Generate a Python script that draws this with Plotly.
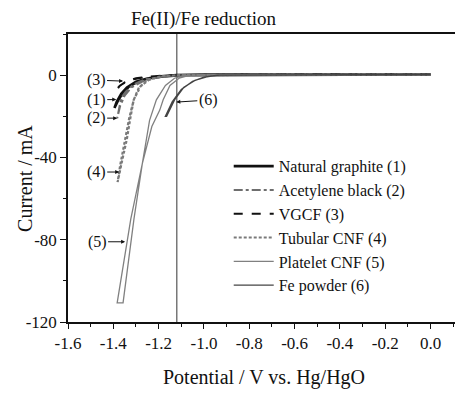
import plotly.graph_objects as go

# ---------------- data ----------------
names = ["Natural graphite (1)", "Acetylene black (2)", "VGCF (3)",
         "Tubular CNF (4)", "Platelet CNF (5)", "Fe powder (6)"]

ng_x = [0.0, -0.5, -0.9, -1.0, -1.1, -1.18, -1.24, -1.29, -1.33, -1.36, -1.38, -1.395,
        -1.395, -1.385, -1.365, -1.34, -1.3, -1.25, -1.19, -1.12, -1.0, -0.5, 0.0]
ng_y = [0.3, 0.3, 0.3, 0.2, 0.0, -0.6, -1.5, -3.0, -5.5, -9.0, -12.5, -16.0,
        -16.0, -13.0, -9.0, -6.0, -3.2, -1.6, -0.6, 0.0, 0.3, 0.3, 0.3]

ab_x = [0.0, -0.5, -1.0, -1.1, -1.2, -1.26, -1.31, -1.345, -1.365, -1.383,
        -1.383, -1.37, -1.35, -1.32, -1.27, -1.2, -1.1, -1.0, -0.5, 0.0]
ab_y = [0.3, 0.3, 0.2, 0.0, -0.8, -2.0, -4.5, -8.0, -11.0, -21.0,
        -21.0, -15.0, -10.0, -6.0, -3.0, -1.0, 0.0, 0.2, 0.3, 0.3]

vg_x = [0.0, -0.5, -1.0, -1.15, -1.25, -1.31, -1.35, -1.375, -1.39,
        -1.39, -1.37, -1.34, -1.3, -1.22, -1.1, -0.5, 0.0]
vg_y = [0.3, 0.3, 0.2, 0.0, -0.8, -2.0, -3.5, -5.5, -8.0,
        -8.0, -5.0, -3.0, -1.5, -0.5, 0.0, 0.3, 0.3]

tc_x = [0.0, -0.5, -1.0, -1.12, -1.2, -1.25, -1.287, -1.31, -1.325, -1.34, -1.36, -1.381,
        -1.381, -1.37, -1.35, -1.33, -1.31, -1.28, -1.24, -1.18, -1.1, -0.5, 0.0]
tc_y = [0.3, 0.3, 0.2, 0.0, -0.8, -2.5, -6.0, -12.0, -21.0, -31.0, -41.0, -52.0,
        -52.0, -44.0, -32.0, -21.0, -12.0, -5.5, -2.0, -0.5, 0.0, 0.3, 0.3]

pc_x = [0.0, -0.5, -0.95, -1.08, -1.13, -1.17, -1.21, -1.24, -1.272, -1.323, -1.383,
        -1.357, -1.309, -1.272, -1.23, -1.195, -1.18, -1.15, -1.11, -1.06, -0.95, -0.5, 0.0]
pc_y = [0.3, 0.3, 0.3, 0.0, -1.5, -5.0, -12.0, -22.0, -43.0, -70.0, -110.7,
        -110.7, -70.0, -43.0, -25.0, -17.0, -12.0, -5.0, -1.5, 0.0, 0.3, 0.3, 0.3]

fe_x = [0.0, -0.5, -0.9, -0.94, -1.0, -1.05, -1.1, -1.14, -1.17,
        -1.165, -1.13, -1.09, -1.04, -0.98, -0.93, -0.5, 0.0]
fe_y = [0.3, 0.3, 0.3, 0.0, -1.0, -3.0, -7.0, -13.0, -20.0,
        -20.0, -12.0, -6.0, -2.5, -0.6, 0.0, 0.3, 0.3]

series_x = [ng_x, ab_x, vg_x, tc_x, pc_x, fe_x]
series_y = [ng_y, ab_y, vg_y, tc_y, pc_y, fe_y]

reduction_potential = -1.12

x_tick_vals = [-1.6, -1.4, -1.2, -1.0, -0.8, -0.6, -0.4, -0.2, 0.0]
x_tick_labels = ["-1.6", "-1.4", "-1.2", "-1.0", "-0.8", "-0.6", "-0.4", "-0.2", "0.0"]
y_tick_vals = [-120, -80, -40, 0]
y_tick_labels = ["-120", "-80", "-40", "0"]

# annotation labels: (text, x, y, ax, ay)
labels = [("(1)", -1.387, -11.9, -20, 0),
          ("(2)", -1.383, -20.9, -21, 0),
          ("(3)", -1.357, -2.9, -27, -1),
          ("(4)", -1.374, -47.1, -23, 0),
          ("(5)", -1.348, -81.0, -28, 0),
          ("(6)", -1.122, -13.1, 32, -2)]

# ---------------- styles ----------------
colors = ["#111111", "#6e6e6e", "#111111", "#7a7a7a", "#808080", "#444444"]
dashes = ["solid", "dashdot", "dash", "3px,2px", "solid", "solid"]
widths = [2.6, 2.0, 2.0, 2.2, 1.3, 1.4]

FONT = "Liberation Serif, Times New Roman, serif"

fig = go.Figure()
for n, xs, ys, c, d, w in zip(names, series_x, series_y, colors, dashes, widths):
    fig.add_trace(go.Scatter(x=xs, y=ys, mode="lines", name=n,
                             line=dict(color=c, dash=d, width=w)))

fig.add_vline(x=reduction_potential, line=dict(color="#777777", width=1.5), layer="below")

for t, x, y, ax, ay in labels:
    fig.add_annotation(x=x, y=y, text=t, ax=ax, ay=ay, showarrow=True,
                       arrowhead=2, arrowsize=0.8, arrowwidth=1, arrowcolor="#111",
                       font=dict(size=16, color="#111", family=FONT))

fig.add_annotation(xref="paper", yref="paper", x=(204 - 68) / 392, y=1.0,
                   yanchor="middle", yshift=15, text="Fe(II)/Fe reduction", showarrow=False,
                   font=dict(size=19, color="#111", family=FONT))

# y-axis title as rotated text, placed like the original
fig.add_annotation(xref="paper", yref="paper", x=-0.11, y=0.5, xanchor="center",
                   yanchor="middle", textangle=-90, text="Current / mA", showarrow=False,
                   font=dict(size=20, color="#111", family=FONT))

# the page body has an 8px margin, so the figure is sized and offset to compensate
fig.update_layout(
    width=455, height=385,
    margin=dict(l=60, r=3, t=26, b=71, autoexpand=False),
    paper_bgcolor="white", plot_bgcolor="white",
    font=dict(family=FONT, size=17, color="#111"),
    showlegend=True,
    legend=dict(x=0.41, y=0.60, xanchor="left", yanchor="top",
                bgcolor="rgba(0,0,0,0)", font=dict(size=16, family=FONT),
                itemwidth=40, tracegroupgap=0),
)

fig.update_xaxes(range=[-1.6, 0.13], tickvals=x_tick_vals, ticktext=x_tick_labels,
                 automargin=False,
                 showline=True, linecolor="#111", linewidth=1.5, mirror=True,
                 ticks="outside", ticklen=5, tickcolor="#111", showgrid=False, zeroline=False,
                 minor=dict(dtick=0.1, tick0=0, ticks="outside", ticklen=3, tickcolor="#111"),
                 title=dict(text="Potential / V vs. Hg/HgO", font=dict(size=20, family=FONT),
                            standoff=18),
                 tickfont=dict(size=17, family=FONT))
fig.update_yaxes(range=[-120, 20], tickvals=y_tick_vals, ticktext=y_tick_labels,
                 automargin=False,
                 showline=True, linecolor="#111", linewidth=1.5, mirror=True,
                 ticks="outside", ticklen=6, tickcolor="#111", showgrid=False, zeroline=False,
                 minor=dict(dtick=20, tick0=0, ticks="outside", ticklen=3, tickcolor="#111"),
                 tickfont=dict(size=17, family=FONT))

fig.write_html("out.html")
